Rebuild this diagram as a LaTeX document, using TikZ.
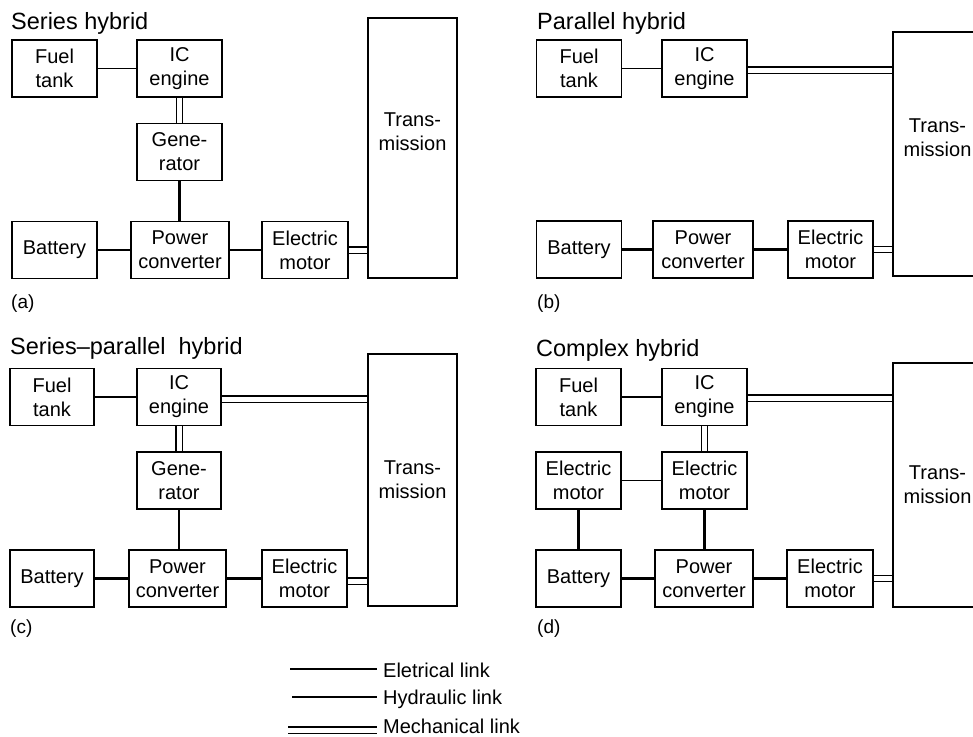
\documentclass[tikz,border=0pt]{standalone}
\usepackage{fontspec}
\setmainfont{Liberation Sans}
\begin{document}
\begin{tikzpicture}[x=1pt,y=-1pt,
 box/.style={draw,line width=1.6pt,inner sep=0pt,align=center,font=\fontsize{20}{24}\selectfont,minimum height=57pt,minimum width=85pt},
 hyd/.style={line width=1.3pt},
 elec/.style={line width=2.2pt},
 mech/.style={line width=1.4pt,double,double distance=5pt},
 ttl/.style={anchor=base west,inner sep=0pt,font=\fontsize{23.5}{28}\selectfont},
 lab/.style={anchor=base west,inner sep=0pt,font=\fontsize{19}{23}\selectfont},
 leg/.style={anchor=base west,inner sep=0pt,font=\fontsize{20}{24}\selectfont}]
\clip (0,0) rectangle (973,736);
\fill[white] (0,0) rectangle (973,736);

% ---------- (a) Series hybrid ----------
\node[ttl] (ta) at (11,29) {Series hybrid};
\node[box] (aft) at (54.5,68.5) {Fuel\\tank};
\node[box] (aic) at (179.5,68.5) {IC\\engine};
\node[box] (agen) at (179.5,152) {Gene-\\rator};
\node[box] (abat) at (54.5,250) {Battery};
\node[box,minimum width=98pt] (apc) at (180,250) {Power\\converter};
\node[box,minimum width=86pt] (aem) at (305,250) {Electric\\motor};
\node[box,minimum width=89pt,minimum height=260pt] (atr) at (412.5,148) {Trans-\\mission\\[8pt]};
\node[lab] (la) at (11,308) {(a)};
\draw[hyd] (aft.east) -- (aic.west);
\draw[mech] (aic.south) -- (agen.north);
\draw[elec] (agen.south) -- (agen.south |- apc.north);
\draw[elec] (abat.east) -- (apc.west);
\draw[elec] (apc.east) -- (aem.west);
\draw[mech] (aem.east) -- (aem.east -| atr.west);

% ---------- (b) Parallel hybrid ----------
\node[ttl] (tb) at (537,29) {Parallel hybrid};
\node[box] (bft) at (579,68.5) {Fuel\\tank};
\node[box] (bic) at (704.5,68.5) {IC\\engine};
\node[box] (bbat) at (579,249.5) {Battery};
\node[box,minimum width=100pt] (bpc) at (703,249.5) {Power\\converter};
\node[box] (bem) at (830.5,249.5) {Electric\\motor};
\node[box,minimum width=89pt,minimum height=244pt] (btr) at (937.5,154) {Trans-\\mission\\[8pt]};
\node[lab] (lb) at (537,308) {(b)};
\draw[hyd] (bft.east) -- (bic.west);
\draw[mech] ([yshift=-1.5pt]bic.east) -- ([yshift=-1.5pt]bic.east -| btr.west);
\draw[elec] (bbat.east) -- (bpc.west);
\draw[elec] (bpc.east) -- (bem.west);
\draw[mech] (bem.east) -- (bem.east -| btr.west);

% ---------- (c) Series-parallel hybrid ----------
\node[ttl] (tc) at (10,354) {Series--parallel\ \ hybrid};
\node[box,minimum width=84pt] (cft) at (52,397) {Fuel\\tank};
\node[box,minimum width=84pt] (cic) at (179,397) {IC\\engine};
\node[box,minimum width=84pt] (cgen) at (179,480.5) {Gene-\\rator};
\node[box,minimum width=84pt] (cbat) at (52,578.5) {Battery};
\node[box,minimum width=97pt] (cpc) at (177.5,578.5) {Power\\converter};
\node[box] (cem) at (304.5,578.5) {Electric\\motor};
\node[box,minimum width=89pt,minimum height=252pt] (ctr) at (412.5,480) {Trans-\\mission};
\node[lab] (lc) at (10,633) {(c)};
\draw[hyd] (cft.east) -- (cic.west);
\draw[mech] ([yshift=-2pt]cic.east) -- ([yshift=-2pt]cic.east -| ctr.west);
\draw[mech] (cic.south) -- (cgen.north);
\draw[elec] (cgen.south) -- (cgen.south |- cpc.north);
\draw[elec] (cbat.east) -- (cpc.west);
\draw[elec] (cpc.east) -- (cem.west);
\draw[mech] ([yshift=-2.5pt]cem.east) -- ([yshift=-2.5pt]cem.east -| ctr.west);

% ---------- (d) Complex hybrid ----------
\node[ttl] (td) at (536,356) {Complex hybrid};
\node[box] (dft) at (578.5,397) {Fuel\\tank};
\node[box] (dic) at (704.5,397) {IC\\engine};
\node[box] (deml) at (578.5,480.5) {Electric\\motor};
\node[box] (demm) at (704.5,480.5) {Electric\\motor};
\node[box] (dbat) at (578.5,578.5) {Battery};
\node[box,minimum width=98pt] (dpc) at (704,578.5) {Power\\converter};
\node[box,minimum width=86pt] (demr) at (830,578.5) {Electric\\motor};
\node[box,minimum width=89pt,minimum height=244pt] (dtr) at (937.5,485) {Trans-\\mission};
\node[lab] (ld) at (537,633) {(d)};
\draw[hyd] (dft.east) -- (dic.west);
\draw[mech] ([yshift=-1pt]dic.east) -- ([yshift=-1pt]dic.east -| dtr.west);
\draw[mech] (dic.south) -- (demm.north);
\draw[hyd] (deml.east) -- (demm.west);
\draw[elec] (deml.south) -- (dbat.north);
\draw[elec] (demm.south) -- (demm.south |- dpc.north);
\draw[elec] (dbat.east) -- (dpc.west);
\draw[elec] (dpc.east) -- (demr.west);
\draw[mech] (demr.east) -- (demr.east -| dtr.west);

% ---------- legend ----------
\coordinate (e1) at (290,669);
\coordinate (e2) at (377,669);
\coordinate (h1) at (292,697);
\coordinate (h2) at (377,697);
\coordinate (m1) at (288,730);
\coordinate (m2) at (377,730);
\draw[elec] (e1) -- (e2);
\draw[hyd] (h1) -- (h2);
\draw[mech] (m1) -- (m2);
\node[leg] (le) at (383,677) {Eletrical link};
\node[leg] (lh) at (383,704) {Hydraulic link};
\node[leg] (lm) at (383,733) {Mechanical link};
\end{tikzpicture}
\end{document}
